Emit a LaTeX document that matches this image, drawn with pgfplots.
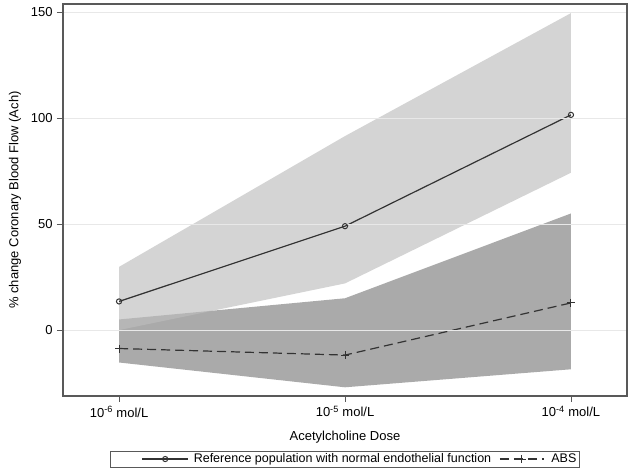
\documentclass[border=0pt]{standalone}
\usepackage{fontspec}
\setmainfont{Liberation Sans}
\usepackage{pgfplots}
\pgfplotsset{compat=1.18}
\definecolor{framec}{gray}{0.35}
\definecolor{linec}{gray}{0.2}
\definecolor{darkband}{gray}{0.665}
\definecolor{lightband}{gray}{0.74}
\definecolor{gridc}{gray}{0.91}
\pgfplotsset{
  refleg/.style={legend image code/.code={\path (-30bp,0bp) (49bp,0bp); \draw[mark repeat=2,mark phase=2,##1] plot coordinates {(0bp,0bp) (23bp,0bp) (46bp,0bp)};}},
  absleg/.style={legend image code/.code={\path (49bp,0bp); \draw[mark repeat=2,mark phase=2,##1] plot coordinates {(0bp,0bp) (22bp,0bp) (44bp,0bp)};}},
}
\begin{document}
\fontsize{12.5bp}{14bp}\selectfont
\begin{tikzpicture}[x=1bp,y=1bp]
\path[use as bounding box] (0,0) rectangle (631,471);
\begin{axis}[
  at={(63bp,75bp)}, anchor=south west,
  scale only axis, width=564bp, height=392bp,
  xmin=-0.248, xmax=2.248, ymin=-31.1, ymax=153.8,
  xtick={0,1,2},
  xticklabels={10\textsuperscript{-6} mol/L,10\textsuperscript{-5} mol/L,10\textsuperscript{-4} mol/L},
  ytick={0,50,100,150},
  /pgf/number format/assume math mode=true,
  tick label style={font=\fontsize{13bp}{15bp}\selectfont},
  tick align=outside, major tick length=6bp,
  xtick pos=bottom, ytick pos=left,
  ymajorgrids, grid style={gridc, line width=0.7bp},
  axis line style={framec, line width=1.1bp},
  tick style={framec, line width=0.9bp},
  axis on top,
  xlabel={Acetylcholine Dose},
  ylabel={\% change Coronary Blood Flow (Ach)},
  label style={font=\fontsize{13bp}{15bp}\selectfont},
  xlabel style={at={(axis description cs:0.5,-0.105)}, anchor=center},
  ylabel style={at={(axis description cs:-0.085,0.5)}, anchor=center},
  legend columns=2,
  legend style={at={(axis description cs:0.5,-0.1395)}, anchor=north,
    draw=framec, line width=0.8bp, inner xsep=1bp, inner ysep=0.5bp, font=\fontsize{12.5bp}{14bp}\selectfont,
    /tikz/every even column/.append style={column sep=6bp}},
  legend cell align=left,
]
% ABS band (dark)
\addplot[fill=darkband, draw=none, forget plot] coordinates {(0,5) (1,15) (2,55) (2,-18.5) (1,-27) (0,-15.3)} -- cycle;
% Reference band (light)
\addplot[fill=lightband, fill opacity=0.65, draw=none, forget plot] coordinates {(0,29.8) (1,91.5) (2,149.5) (2,74.2) (1,22) (0,0)} -- cycle;
% Reference line
\addplot[linec, line width=1.2bp, mark=o, mark size=2.6bp, mark options={solid, line width=1bp}, refleg]
  coordinates {(0,13.5) (1,49) (2,101.5)};
\addlegendentry{Reference population with normal endothelial function}
% ABS line
\addplot[linec, line width=1.2bp, dash pattern=on 9bp off 5bp, mark=+, mark size=4bp, mark options={solid, line width=1bp}, absleg]
  coordinates {(0,-8.7) (1,-11.8) (2,12.8)};
\addlegendentry{ABS}
\end{axis}
\end{tikzpicture}
\end{document}
